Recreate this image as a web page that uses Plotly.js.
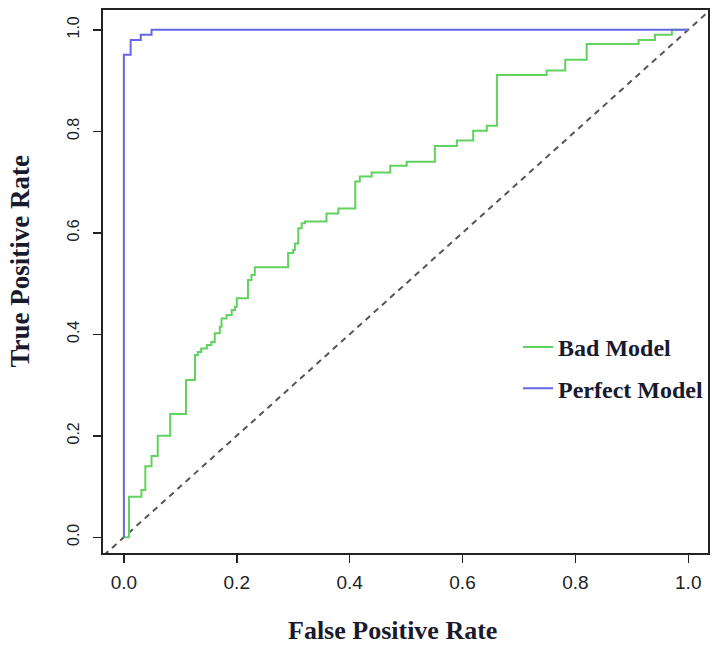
<!DOCTYPE html>
<html>
<head>
<meta charset="utf-8">
<script src="https://cdn.plot.ly/plotly-3.0.1.min.js"></script>
<style>html,body{margin:0;padding:0;background:#fff;}#chart{width:714px;height:648px;}</style>
</head>
<body>
<div id="chart"></div>
<script>
// Bad Model ROC curve (step vertices)
const badX = [0, 0.009, 0.009, 0.031, 0.031, 0.038, 0.038, 0.049, 0.049, 0.060, 0.060, 0.082, 0.082, 0.110, 0.110, 0.126, 0.126, 0.131, 0.131, 0.137, 0.137, 0.147, 0.147, 0.155, 0.155, 0.161, 0.161, 0.170, 0.170, 0.173, 0.173, 0.182, 0.182, 0.191, 0.191, 0.197, 0.197, 0.200, 0.200, 0.220, 0.220, 0.226, 0.226, 0.232, 0.232, 0.291, 0.291, 0.300, 0.300, 0.303, 0.303, 0.309, 0.309, 0.315, 0.315, 0.321, 0.321, 0.359, 0.359, 0.380, 0.380, 0.410, 0.410, 0.418, 0.418, 0.439, 0.439, 0.472, 0.472, 0.501, 0.501, 0.551, 0.551, 0.590, 0.590, 0.619, 0.619, 0.643, 0.643, 0.661, 0.661, 0.749, 0.749, 0.782, 0.782, 0.820, 0.820, 0.912, 0.912, 0.941, 0.941, 0.971, 0.971, 1.0];
const badY = [0, 0, 0.080, 0.080, 0.093, 0.093, 0.140, 0.140, 0.160, 0.160, 0.200, 0.200, 0.243, 0.243, 0.310, 0.310, 0.359, 0.359, 0.365, 0.365, 0.372, 0.372, 0.379, 0.379, 0.385, 0.385, 0.402, 0.402, 0.415, 0.415, 0.431, 0.431, 0.438, 0.438, 0.448, 0.448, 0.454, 0.454, 0.471, 0.471, 0.507, 0.507, 0.517, 0.517, 0.532, 0.532, 0.560, 0.560, 0.566, 0.566, 0.579, 0.579, 0.609, 0.609, 0.619, 0.619, 0.622, 0.622, 0.638, 0.638, 0.648, 0.648, 0.701, 0.701, 0.711, 0.711, 0.719, 0.719, 0.732, 0.732, 0.740, 0.740, 0.771, 0.771, 0.782, 0.782, 0.801, 0.801, 0.811, 0.811, 0.911, 0.911, 0.920, 0.920, 0.941, 0.941, 0.972, 0.972, 0.980, 0.980, 0.990, 0.990, 1.0, 1.0];
// Perfect Model ROC curve
const perfectX = [0, 0, 0.012, 0.012, 0.030, 0.030, 0.049, 0.049, 1.0];
const perfectY = [0, 0.951, 0.951, 0.980, 0.980, 0.990, 0.990, 1.0, 1.0];
// Reference diagonal y = x (clipped to the plot area)
const diagLine = [-0.05, 1.05];
const xRange = [-0.037, 1.035];
const yRange = [-0.031, 1.039];
const tickVals = [0, 0.2, 0.4, 0.6, 0.8, 1.0];
const tickText = ["0.0", "0.2", "0.4", "0.6", "0.8", "1.0"];

const traces = [
  {x: diagLine, y: diagLine, mode: 'lines', line: {color: '#555555', width: 2, dash: '6px,5px'}, showlegend: false, hoverinfo: 'skip'},
  {x: badX, y: badY, mode: 'lines', name: 'Bad Model', legendgroup: 'a', line: {color: '#5fd25f', width: 2}},
  {x: perfectX, y: perfectY, mode: 'lines', name: 'Perfect Model', legendgroup: 'b', line: {color: '#6666e8', width: 2}}
];

const serif = 'Liberation Serif, Times New Roman, serif';
const sans = 'Liberation Sans, Arial, sans-serif';

const axisCommon = {tickvals: tickVals, ticktext: tickText, ticks: 'outside', ticklen: 8, tickwidth: 1.5, tickcolor: '#222',
  showgrid: false, zeroline: false, showline: true, mirror: true, linecolor: '#222', linewidth: 2};

const layout = {
  width: 714, height: 648,
  margin: {l: 103, r: 6, t: 10, b: 95},
  paper_bgcolor: '#fff', plot_bgcolor: '#fff',
  xaxis: Object.assign({}, axisCommon, {range: xRange, tickfont: {family: sans, size: 19, color: '#222'}, ticklabelstandoff: 3}),
  yaxis: Object.assign({}, axisCommon, {range: yRange, tickfont: {family: sans, size: 16, color: '#222'}, tickangle: -90, ticklabelstandoff: 8}),
  showlegend: true,
  legend: {x: 0.686, y: 0.341, xanchor: 'left', yanchor: 'middle', bgcolor: 'rgba(0,0,0,0)', borderwidth: 0,
           traceorder: 'grouped', tracegroupgap: 7, itemwidth: 30,
           font: {family: serif, size: 24, color: '#1a1a2e', weight: 700}},
  annotations: [
    {text: 'False Positive Rate', xref: 'paper', yref: 'paper', x: 0.479, y: -0.142, xanchor: 'center', yanchor: 'middle', showarrow: false,
     font: {family: serif, size: 26, color: '#1a1a2e', weight: 700}},
    {text: 'True Positive Rate', xref: 'paper', yref: 'paper', x: -0.137, y: 0.537, xanchor: 'center', yanchor: 'middle', textangle: -90, showarrow: false,
     font: {family: serif, size: 27, color: '#1a1a2e', weight: 700}}
  ]
};

Plotly.newPlot('chart', traces, layout, {displayModeBar: false, staticPlot: true});
</script>
</body>
</html>
